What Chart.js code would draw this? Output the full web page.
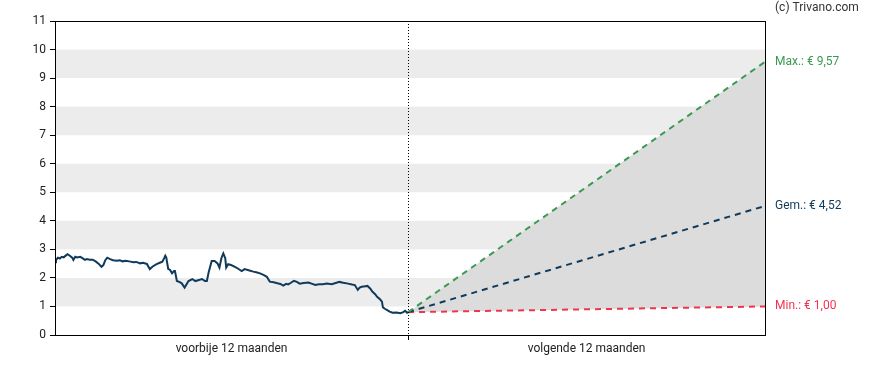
<!DOCTYPE html>
<html>
<head>
<meta charset="utf-8">
<script src="https://cdn.jsdelivr.net/npm/chart.js@4"></script>
<style>
  body { margin: 0; background: #fff; }
  #wrap { width: 888px; height: 370px; }
</style>
</head>
<body>
<div id="wrap"><canvas id="koers" width="888" height="370"></canvas></div>
<script>
// dagen t.o.v. vandaag (voorbije 12 maanden)
let pastDays = [-365, -364, -362, -360, -358, -356, -354, -352, -349, -347, -346, -344, -342, -339, -337, -334, -332, -329, -326, -323,
  -320, -317, -315, -313, -311, -308, -305, -301, -298, -295, -292, -287, -284, -281, -277, -274, -270, -267, -264, -260,
  -256, -254, -252, -251, -250, -248, -246, -244, -242, -241, -239, -236, -234, -231, -227, -223, -220, -217, -213, -210,
  -208, -206, -203, -200, -197, -195, -193, -191, -189, -188, -186, -183, -179, -176, -172, -169, -164, -160, -157, -153,
  -149, -146, -143, -139, -135, -132, -129, -126, -124, -121, -118, -115, -112, -108, -103, -99, -96, -92, -88, -84,
  -79, -74, -71, -67, -62, -58, -55, -52, -50, -48, -44, -42, -39, -37, -34, -32, -29, -27, -26, -24,
  -22, -19, -16, -12, -8, -5, -3, -1, 0]
let pastPrices = [2.55, 2.62, 2.71, 2.68, 2.74, 2.72, 2.78, 2.83, 2.76, 2.70, 2.63, 2.74, 2.72, 2.74, 2.70, 2.63, 2.66, 2.64, 2.64, 2.58,
  2.50, 2.39, 2.45, 2.62, 2.71, 2.66, 2.62, 2.60, 2.62, 2.58, 2.60, 2.57, 2.55, 2.56, 2.51, 2.53, 2.49, 2.31, 2.40, 2.48,
  2.54, 2.57, 2.70, 2.78, 2.72, 2.32, 2.28, 2.16, 2.24, 2.24, 1.89, 1.85, 1.81, 1.66, 1.89, 1.96, 1.89, 1.92, 1.96, 1.89,
  1.89, 2.22, 2.59, 2.59, 2.51, 2.36, 2.69, 2.86, 2.69, 2.36, 2.48, 2.45, 2.39, 2.33, 2.24, 2.31, 2.26, 2.22, 2.20, 2.16,
  2.10, 2.04, 1.87, 1.85, 1.81, 1.79, 1.73, 1.79, 1.77, 1.83, 1.90, 1.86, 1.80, 1.82, 1.84, 1.79, 1.75, 1.78, 1.78, 1.80,
  1.78, 1.83, 1.86, 1.83, 1.80, 1.77, 1.75, 1.58, 1.66, 1.69, 1.71, 1.72, 1.62, 1.52, 1.43, 1.34, 1.25, 1.17, 0.97, 0.92,
  0.88, 0.82, 0.78, 0.79, 0.76, 0.80, 0.85, 0.78, 0.80]

let pastSpan = 365
let horizonDays = 369
let forecastMax = 9.57
let forecastAvg = 4.52
let forecastMin = 1.00

let periodLabels = ["voorbije 12 maanden", "volgende 12 maanden"]
let yTicks = [0, 1, 2, 3, 4, 5, 6, 7, 8, 9, 10, 11]

let lastPrice = pastPrices[pastPrices.length - 1]

let pastPoints = pastDays.map((d, i) => ({ x: d, y: pastPrices[i] }))
let fc = v => [{ x: 0, y: lastPrice }, { x: horizonDays, y: v }]

let groen = "#3b9a52"
let blauw = "#0f3a5c"
let rood = "#ef3450"

// grijze banden + kader + stippellijn
let achtergrond = {
  id: "achtergrond",
  beforeDraw(chart) {
    let ctx = chart.ctx, a = chart.chartArea, y = chart.scales.y
    ctx.save()
    ctx.fillStyle = "#ececec"
    for (let v = 1; v < 11; v += 2) {
      let top = y.getPixelForValue(v + 1), bot = y.getPixelForValue(v)
      ctx.fillRect(a.left, top, a.right - a.left, bot - top)
    }
    ctx.restore()
  },
  afterDatasetsDraw(chart) {
    let ctx = chart.ctx, a = chart.chartArea
    let x0 = Math.round(chart.scales.x.getPixelForValue(0)) + 0.5
    ctx.save()
    ctx.strokeStyle = "#000"
    ctx.lineWidth = 1
    ctx.setLineDash([1, 2])
    ctx.beginPath()
    ctx.moveTo(x0, a.top)
    ctx.lineTo(x0, a.bottom)
    ctx.stroke()
    ctx.setLineDash([])
    ctx.strokeRect(Math.round(a.left) + 0.5, Math.round(a.top) + 0.5, Math.round(a.right - a.left), Math.round(a.bottom - a.top))
    ctx.restore()
  },
  afterDraw(chart) {
    let ctx = chart.ctx, a = chart.chartArea, y = chart.scales.y
    let tx = a.right + 10
    ctx.save()
    ctx.font = "12px Roboto"
    ctx.textBaseline = "middle"
    ctx.textAlign = "left"
    ctx.fillStyle = "#333"
    ctx.fillText("(c) Trivano.com", tx, 8)
    let labels = [
      ["Max.: € " + forecastMax.toFixed(2).replace(".", ","), forecastMax, groen],
      ["Gem.: € " + forecastAvg.toFixed(2).replace(".", ","), forecastAvg, blauw],
      ["Min.: € " + forecastMin.toFixed(2).replace(".", ","), forecastMin, rood]
    ]
    labels.forEach(l => {
      ctx.fillStyle = l[2]
      ctx.fillText(l[0], tx, y.getPixelForValue(l[1]))
    })
    ctx.restore()
  }
}

let dash = [6, 5]

new Chart(document.getElementById("koers"), {
  type: "line",
  data: {
    datasets: [
      { data: pastPoints, borderColor: blauw, borderWidth: 2, pointRadius: 0, tension: 0, fill: false },
      { data: fc(forecastMax), borderColor: groen, borderWidth: 2, borderDash: dash, pointRadius: 0, fill: 3, backgroundColor: "#dcdcdc" },
      { data: fc(forecastAvg), borderColor: blauw, borderWidth: 2, borderDash: dash, pointRadius: 0, fill: false },
      { data: fc(forecastMin), borderColor: rood, borderWidth: 2, borderDash: dash, pointRadius: 0, fill: false }
    ]
  },
  options: {
    responsive: false,
    animation: false,
    layout: { padding: { top: 21, right: 123, left: 0, bottom: 0 } },
    plugins: {
      legend: { display: false },
      tooltip: { enabled: false },
      filler: { drawTime: "beforeDatasetsDraw" }
    },
    scales: {
      x: {
        type: "linear",
        min: -pastSpan,
        max: horizonDays,
        afterBuildTicks: s => { s.ticks = [{ value: -pastSpan / 2 }, { value: 0 }, { value: horizonDays / 2 }] },
        afterFit: s => { s.height = 35; s.paddingLeft = 0; s.paddingRight = 0 },
        ticks: {
          autoSkip: false,
          maxRotation: 0,
          color: "#222",
          font: { family: "Roboto", size: 12 },
          padding: 2,
          callback: v => v < 0 ? periodLabels[0] : v > 0 ? periodLabels[1] : ""
        },
        grid: {
          drawOnChartArea: false,
          drawTicks: true,
          tickLength: 5,
          tickColor: c => c.tick && c.tick.value === 0 ? "#000" : "rgba(0,0,0,0)"
        },
        border: { color: "#000", width: 1 }
      },
      y: {
        min: 0,
        max: 11,
        afterBuildTicks: s => { s.ticks = yTicks.map(v => ({ value: v })) },
        afterFit: s => { s.width = 55; s.paddingTop = 0; s.paddingBottom = 0 },
        ticks: {
          color: "#222",
          font: { family: "Roboto", size: 12 },
          padding: 4
        },
        grid: { drawOnChartArea: false, drawTicks: true, tickLength: 5, tickColor: "#000" },
        border: { color: "#000", width: 1 }
      }
    }
  },
  plugins: [achtergrond]
})
</script>
</body>
</html>
